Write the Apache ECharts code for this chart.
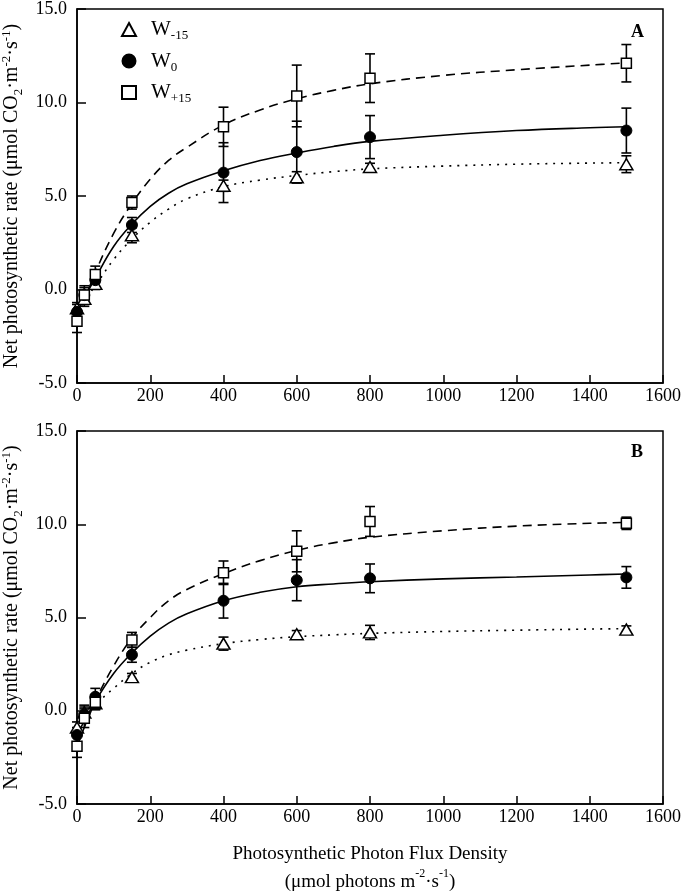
<!DOCTYPE html>
<html><head><meta charset="utf-8">
<script src="https://cdn.jsdelivr.net/npm/echarts@6/dist/echarts.min.js"></script>
<style>html,body{margin:0;padding:0;background:#fff}#c{width:685px;height:895px}</style>
</head><body><div id="c"></div>
<script>
const xVals = [0, 20, 50, 150, 400, 600, 800, 1500];
const xTicks = [0, 200, 400, 600, 800, 1000, 1200, 1400, 1600];
const yTicks = [-5, 0, 5, 10, 15];
const seriesNames = ['W-15', 'W0', 'W+15'];

// Panel A means and SE
const aWm15 = [-1.0, -0.5, 0.3, 2.9, 5.55, 6.0, 6.55, 6.7];
const aWm15Err = [0.3, 0.4, 0.3, 0.4, 0.3, 0.3, 0.2, 0.45];
const aW0 = [-1.2, -0.3, 0.5, 3.45, 6.25, 7.35, 8.15, 8.5];
const aW0Err = [0.4, 0.4, 0.4, 0.4, 1.6, 1.65, 1.15, 1.2];
const aWp15 = [-1.7, -0.3, 0.8, 4.65, 8.7, 10.35, 11.3, 12.1];
const aWp15Err = [0.6, 0.5, 0.45, 0.35, 1.05, 1.65, 1.3, 1.0];

// Panel B means and SE
const bWm15 = [-0.9, -0.1, 0.4, 1.8, 3.6, 4.1, 4.2, 4.35];
const bWm15Err = [0.3, 0.4, 0.3, 0.2, 0.35, 0.2, 0.38, 0.2];
const bW0 = [-1.3, -0.2, 0.75, 3.0, 5.9, 7.0, 7.1, 7.15];
const bW0Err = [0.4, 0.4, 0.45, 0.4, 0.93, 1.1, 0.77, 0.58];
const bWp15 = [-1.9, -0.4, 0.45, 3.8, 7.4, 8.55, 10.15, 10.05];
const bWp15Err = [0.6, 0.5, 0.4, 0.4, 0.63, 1.1, 0.8, 0.33];

// Fitted curves
const curveX = [0, 50, 100, 150, 200, 250, 300, 400, 500, 600, 700, 800, 1000, 1200, 1400, 1500];
const aFitWm15 = [-1.1, 0.2, 1.6, 2.7, 3.6, 4.3, 4.85, 5.5, 5.85, 6.1, 6.3, 6.45, 6.6, 6.7, 6.76, 6.78];
const aFitW0 = [-1.2, 0.6, 2.3, 3.5, 4.45, 5.15, 5.65, 6.35, 6.9, 7.3, 7.65, 7.92, 8.25, 8.5, 8.65, 8.7];
const aFitWp15 = [-1.6, 0.9, 3.0, 4.6, 5.9, 6.9, 7.6, 8.8, 9.6, 10.2, 10.65, 11.0, 11.45, 11.75, 12.0, 12.12];
const bFitWm15 = [-0.9, 0.3, 1.2, 2.0, 2.6, 3.0, 3.25, 3.6, 3.82, 3.97, 4.07, 4.15, 4.25, 4.32, 4.38, 4.4];
const bFitW0 = [-1.3, 0.5, 2.0, 3.1, 4.0, 4.7, 5.2, 5.9, 6.35, 6.65, 6.8, 6.92, 7.07, 7.17, 7.28, 7.33];
const bFitWp15 = [-1.9, 0.5, 2.4, 3.9, 5.0, 5.9, 6.5, 7.35, 8.05, 8.6, 9.0, 9.3, 9.65, 9.9, 10.05, 10.1];

const FONT = "'Liberation Serif','Times New Roman',serif";
const zip = (xs, ys) => xs.map((x, i) => [x, ys[i]]);
const errData = (ys, es) => xVals.map((x, i) => [x, ys[i] - es[i], ys[i] + es[i]]);

const markerStyles = {
  'W-15': { symbol: 'triangle', symbolSize: [13, 11], itemStyle: { color: '#fff', borderColor: '#000', borderWidth: 1.5, opacity: 1 } },
  'W0': { symbol: 'circle', symbolSize: 11, itemStyle: { color: '#000', borderColor: '#000', borderWidth: 1, opacity: 1 } },
  'W+15': { symbol: 'rect', symbolSize: 10, itemStyle: { color: '#fff', borderColor: '#000', borderWidth: 1.5, opacity: 1 } }
};
const lineTypes = { 'W-15': [2, 6], 'W0': 'solid', 'W+15': [9, 6] };

function errSeries(ys, es, gi) {
  return {
    type: 'custom', xAxisIndex: gi, yAxisIndex: gi, z: 3, silent: true,
    data: errData(ys, es),
    renderItem: function (params, api) {
      const x = api.value(0);
      const lo = api.coord([x, api.value(1)]);
      const hi = api.coord([x, api.value(2)]);
      const w = 5;
      const st = { stroke: '#000', lineWidth: 1.6 };
      return { type: 'group', children: [
        { type: 'line', shape: { x1: lo[0], y1: lo[1], x2: hi[0], y2: hi[1] }, style: st },
        { type: 'line', shape: { x1: lo[0] - w, y1: lo[1], x2: lo[0] + w, y2: lo[1] }, style: st },
        { type: 'line', shape: { x1: hi[0] - w, y1: hi[1], x2: hi[0] + w, y2: hi[1] }, style: st }
      ]};
    }
  };
}
function fitSeries(name, ys, gi) {
  return {
    type: 'line', xAxisIndex: gi, yAxisIndex: gi, z: 2, silent: true,
    data: zip(curveX, ys), smooth: 0.4, showSymbol: false, symbol: 'none',
    lineStyle: { color: '#000', width: 1.6, type: lineTypes[name] }
  };
}
function ptSeries(name, ys, gi) {
  return Object.assign({
    type: 'scatter', name: name, xAxisIndex: gi, yAxisIndex: gi, z: 4,
    data: zip(xVals, ys)
  }, JSON.parse(JSON.stringify(markerStyles[name])));
}

function makeRich(fs, ss) {
  return {
    t: { fontFamily: FONT, fontSize: fs, color: '#000' },
    sub: { fontFamily: FONT, fontSize: ss, color: '#000', verticalAlign: 'bottom', padding: [Math.round(fs * 0.6), 0, 0, 0] },
    sup: { fontFamily: FONT, fontSize: ss, color: '#000', verticalAlign: 'top', padding: [0, 0, Math.round(fs * 0.45), 0] }
  };
}
const yName = '{t|Net photosynthetic rate (μmol CO}{sub|2}{t|·m}{sup|-2}{t|·s}{sup|-1}{t|)}';

function xAxis(gi, withName) {
  const ax = {
    type: 'value', gridIndex: gi, min: 0, max: 1600, interval: 200,
    axisLine: { show: true, onZero: false, lineStyle: { color: '#000', width: 1.5 } },
    axisTick: { show: true, inside: true, length: 8, lineStyle: { color: '#000', width: 1.5 } },
    axisLabel: { fontFamily: FONT, fontSize: 18, color: '#000', margin: 4, formatter: v => String(v) },
    splitLine: { show: false }
  };
  if (withName) {
    ax.name = '{t|Photosynthetic Photon Flux Density}\n{t|(μmol photons m}{sup|-2}{t|·s}{sup|-1}{t|)}';
    ax.nameLocation = 'middle';
    ax.nameGap = 36;
    ax.nameTextStyle = { rich: makeRich(19, 12), lineHeight: 28 };
  }
  return ax;
}
function yAxis(gi) {
  return {
    type: 'value', gridIndex: gi, min: -5, max: 15, interval: 5,
    axisLine: { show: true, onZero: false, lineStyle: { color: '#000', width: 1.5 } },
    axisTick: { show: true, inside: true, length: 9, lineStyle: { color: '#000', width: 1.5 } },
    axisLabel: { fontFamily: FONT, fontSize: 18, color: '#000', margin: 10, formatter: v => v.toFixed(1) },
    splitLine: { show: false },
    name: yName, nameLocation: 'middle', nameRotate: 90, nameGap: 52,
    nameTextStyle: { rich: makeRich(20, 13) }
  };
}

const chart = echarts.init(document.getElementById('c'), null, { renderer: 'canvas' });
chart.setOption({
  animation: false,
  backgroundColor: '#fff',
  grid: [
    { left: 77, top: 9, width: 586, height: 374, show: true, borderColor: '#000', borderWidth: 1.5, backgroundColor: 'transparent', containLabel: false, outerBoundsMode: 'none' },
    { left: 77, top: 431, width: 586, height: 373, show: true, borderColor: '#000', borderWidth: 1.5, backgroundColor: 'transparent', containLabel: false, outerBoundsMode: 'none' }
  ],
  xAxis: [xAxis(0, false), xAxis(1, true)],
  yAxis: [yAxis(0), yAxis(1)],
  legend: {
    orient: 'vertical', left: 116, top: 14, itemWidth: 14, itemHeight: 13, itemGap: 8,
    data: seriesNames,
    formatter: function (n) { return '{t|W}{sub|' + n.slice(1) + '}'; },
    textStyle: { rich: makeRich(21, 13), padding: [0, 0, 0, 10] }
  },
  graphic: [
    { type: 'text', left: 631, top: 23, style: { text: 'A', font: 'bold 18px ' + FONT, fill: '#000' } },
    { type: 'text', left: 631, top: 443, style: { text: 'B', font: 'bold 18px ' + FONT, fill: '#000' } }
  ],
  series: [
    fitSeries('W-15', aFitWm15, 0), fitSeries('W0', aFitW0, 0), fitSeries('W+15', aFitWp15, 0),
    errSeries(aWm15, aWm15Err, 0), errSeries(aW0, aW0Err, 0), errSeries(aWp15, aWp15Err, 0),
    ptSeries('W-15', aWm15, 0), ptSeries('W0', aW0, 0), ptSeries('W+15', aWp15, 0),
    fitSeries('W-15', bFitWm15, 1), fitSeries('W0', bFitW0, 1), fitSeries('W+15', bFitWp15, 1),
    errSeries(bWm15, bWm15Err, 1), errSeries(bW0, bW0Err, 1), errSeries(bWp15, bWp15Err, 1),
    ptSeries('W-15', bWm15, 1), ptSeries('W0', bW0, 1), ptSeries('W+15', bWp15, 1)
  ]
});
</script></body></html>
